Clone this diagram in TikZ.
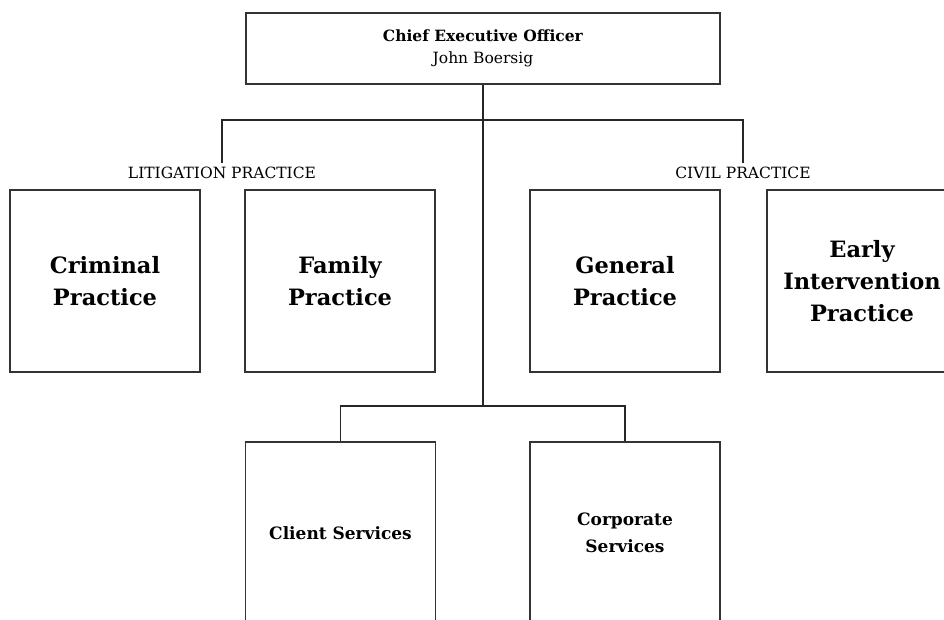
\documentclass[tikz,border=0pt]{standalone}
\usepackage{fontspec}
\setmainfont{DejaVu Serif}
\usetikzlibrary{shapes}

\begin{document}
\begin{tikzpicture}[x=1pt, y=-1pt,
    unit/.style={draw=black!80, line width=1.1pt, align=center, inner sep=0pt,
        minimum width=190pt, minimum height=182pt,
        font=\bfseries\fontsize{22.5}{32}\selectfont},
    service/.style={unit, font=\bfseries\fontsize{17}{27}\selectfont},
    practice/.style={inner sep=4pt, font=\fontsize{15.5}{17}\selectfont},
    link/.style={draw=black!85, line width=1.1pt}]
    \path[use as bounding box, clip] (0,0) rectangle (944,619);

    % Draw head of the office
    \node[draw=black!80, line width=1.1pt, align=center, minimum width=474pt, minimum height=71pt,
        font=\fontsize{15.5}{22}\selectfont] (ceo) at (483,48.5)
        {\textbf{Chief Executive Officer}\\John Boersig};

    % Draw practice groups
    \node[practice] (litigation) at (222,173) {LITIGATION PRACTICE};
    \node[practice] (civil) at (743,173) {CIVIL PRACTICE};

    \node[unit] (criminal) at (105,281) {Criminal\\Practice};
    \node[unit] (family) at (340,281) {Family\\Practice};
    \node[unit] (general) at (625,281) {General\\Practice};
    \node[unit] (early) at (862,281) {Early\\Intervention\\Practice};

    % Draw support services
    \node[service] (client) at (340.5,533) {Client Services};
    \node[service] (corporate) at (625,533) {Corporate\\Services};

    % Draw connecting lines
    \coordinate (upperbus) at (483,120);
    \coordinate (lowerbus) at (483,406);
    \draw[link] (ceo.south) -- (lowerbus);
    \draw[link] (litigation.north) |- (upperbus) -| (civil.north);
    \draw[link] (client.north) |- (lowerbus) -| (corporate.north);
\end{tikzpicture}
\end{document}
